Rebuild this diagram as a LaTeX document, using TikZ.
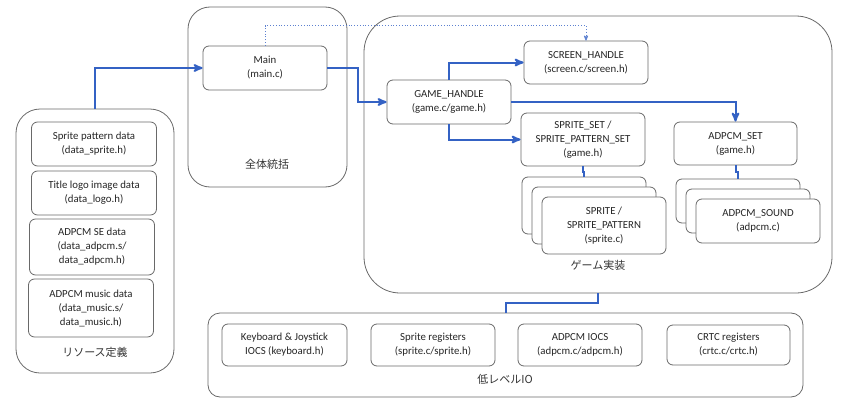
\documentclass[tikz,border=0pt]{standalone}
\usepackage{fontspec}
\setmainfont{Carlito}
\newfontfamily\jpfont{Noto Sans CJK JP}
\usepackage{tikz}
\usetikzlibrary{arrows, shapes, positioning}
\definecolor{linkblue}{RGB}{52,98,196}
\definecolor{boxgray}{RGB}{105,105,105}
\tikzset{
		module/.style={draw=boxgray, fill=white, rounded corners=6pt, line width=0.8pt, align=center, inner sep=2pt, text=black!85, font=\fontsize{10.8}{14}\selectfont},
		dims/.style 2 args={minimum width=#1, minimum height=#2},
		group/.style={draw=boxgray, rounded corners=#1, line width=0.8pt, inner sep=0pt},
		grouplabel/.style={font=\jpfont\fontsize{11}{13}\selectfont, text=black!80},
		flow/.style={->, draw=linkblue, line width=2pt},
		link/.style={draw=linkblue, line width=2pt},
		hint/.style={->, draw=linkblue!80, dotted, line width=0.8pt}
	}
\begin{document}
\begin{tikzpicture}[x=1pt, y=-1pt, >=stealth']
				\useasboundingbox (0,0) rectangle (849,415);
				\node[group=24pt, dims={158pt}{264pt}] (resource) at (95,241)    {};
				\node[group=22pt, dims={159pt}{180pt}] (overall)  at (267.5,97)  {};
				\node[group=36pt, dims={468pt}{277pt}] (game)     at (598,154.5) {};
				\node[group=12pt, dims={595pt}{84pt}]  (lowio)    at (505.5,355) {};
				\node[grouplabel] (resourcetag) at (95,352)  {リソース定義};
				\node[grouplabel] (overalltag)  at (267,164) {全体統括};
				\node[grouplabel] (gametag)     at (598,265) {ゲーム実装};
				\node[grouplabel] (lowiotag)    at (505,379) {低レベルIO};
				\node[module, dims={125pt}{44pt}] (spritedata) at (94,144)  {Sprite pattern data\\(data\_sprite.h)};
				\node[module, dims={125pt}{44pt}] (logodata)   at (94,193)  {Title logo image data\\(data\_logo.h)};
				\node[module, dims={125pt}{56pt}] (sedata)     at (92,247)  {ADPCM SE data\\(data\_adpcm.s/\\data\_adpcm.h)};
				\node[module, dims={125pt}{58pt}] (musicdata)  at (91,308)  {ADPCM music data\\(data\_music.s/\\data\_music.h)};
				\node[module, dims={124pt}{44pt}] (main)       at (265,68)  {Main\\(main.c)};
				\node[module, dims={124pt}{43pt}] (screen)     at (586,62.5) {SCREEN\_HANDLE\\(screen.c/screen.h)};
				\node[module, dims={124pt}{44pt}] (gh)         at (449,102) {GAME\_HANDLE\\(game.c/game.h)};
				\node[module, dims={124pt}{53pt}] (spriteset)  at (583,139.5) {SPRITE\_SET /\\SPRITE\_PATTERN\_SET\\(game.h)};
				\node[module, dims={123pt}{43pt}] (adpcmset)   at (735.5,143.5) {ADPCM\_SET\\(game.h)};
				\node[module, dims={124pt}{57pt}] (spr1)       at (584,205.5) {};
				\node[module, dims={124pt}{57pt}] (spr2)       at (594,215.5) {};
				\node[module, dims={124pt}{57pt}] (spr3)       at (604,225.5) {SPRITE /\\SPRITE\_PATTERN\\(sprite.c)};
				\node[module, dims={124pt}{44pt}] (pcm1)       at (738,201) {};
				\node[module, dims={124pt}{44pt}] (pcm2)       at (748,211) {};
				\node[module, dims={124pt}{44pt}] (pcm3)       at (758,221) {ADPCM\_SOUND\\(adpcm.c)};
				\node[module, dims={125pt}{42pt}] (keyboard)   at (284.5,345) {Keyboard \& Joystick\\IOCS (keyboard.h)};
				\node[module, dims={124pt}{42pt}] (spritereg)  at (433,345) {Sprite registers\\(sprite.c/sprite.h)};
				\node[module, dims={124pt}{42pt}] (adpcmiocs)  at (580,345) {ADPCM IOCS\\(adpcm.c/adpcm.h)};
				\node[module, dims={123pt}{40pt}] (crtc)       at (728.5,345) {CRTC registers\\(crtc.c/crtc.h)};
				\draw[flow] (resource.north) |- (main.west);
				\draw[flow] (main.east) -- ++(31,0) |- (gh.west);
				\draw[flow] (gh.north) |- (screen.west);
				\draw[flow] (gh.south) |- (spriteset.west);
				\draw[flow] (gh.east) -| (adpcmset.north);
				\draw[hint] (main.north) -- ++(0,-20) -| (screen.north);
				\draw[link] (spriteset.south) -- ++(0,6) -| (spr1.north);
				\draw[link] (adpcmset.south) -- ++(0,7) -| (pcm1.north);
				\draw[link] (game.south) -- ++(0,10) -| (lowio.north);
			\end{tikzpicture}
\end{document}
